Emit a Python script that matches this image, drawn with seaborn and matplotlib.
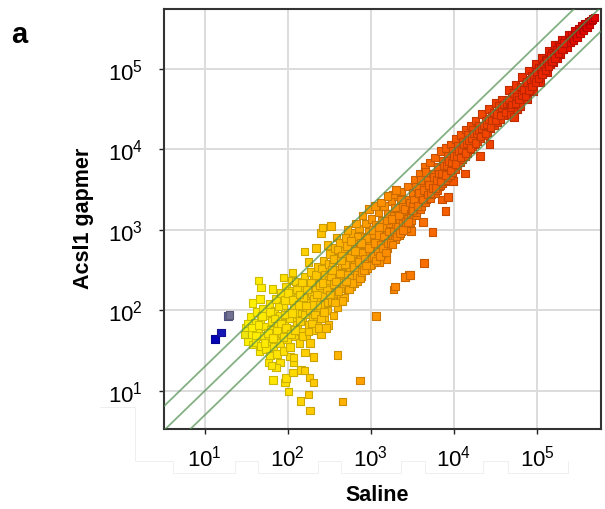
import numpy as np
import pandas as pd
import matplotlib
matplotlib.use("Agg")
import matplotlib.pyplot as plt
from matplotlib.colors import LinearSegmentedColormap
from matplotlib.lines import Line2D
import seaborn as sns

# (log10 saline, log10 gapmer), by region of the cloud
outliers_blue = [(1.125,1.646),(1.197,1.729),(1.282,1.932),(1.30,1.945)]
outliers_low = [(2.008,0.992),(2.152,0.876),(2.268,0.760),(2.252,0.955),(2.661,0.868),(2.870,1.129),
 (1.823,1.137),(1.968,1.108),(1.98,1.158),(2.06,1.232),(2.16,1.261),(2.20,1.253),(2.26,1.17),(2.312,1.108),
 (2.60,1.448),(2.21,1.48),(2.312,1.419),(3.059,1.932),(3.271,2.259),(3.291,2.30),(3.452,2.441),(3.64,2.59),
 (2.03,1.43),(2.07,1.356),(1.907,1.356),(1.86,1.294),(1.767,1.356),(1.807,1.315),(2.068,1.418),(3.41,2.416),
 (3.47,2.44),(3.19,2.64),(3.10,2.60),(3.63,3.10),(3.48,2.99),(4.13,3.70),(3.99,3.61),(3.86,3.38),(3.93,3.41),(4.43,4.07)]
outliers_high = [(1.647,2.371),(1.679,2.288),(1.815,2.267),(1.667,2.143),(1.578,2.09),(1.947,2.412),(2.056,2.474),
 (2.048,2.371),(2.20,2.735),(2.337,2.777),(2.397,2.959),(2.417,3.033),(2.521,3.046),(2.477,2.814),(2.589,2.909),
 (2.248,2.599),(4.313,3.92),(3.74,2.975),(3.9,3.236)]
band_low = [(1.50,1.78),(1.52,1.62),(1.55,1.92),(1.56,1.70),(1.58,1.58),(1.60,1.85),(1.61,1.61),(1.63,1.98),
 (1.64,1.75),(1.66,1.50),(1.67,1.88),(1.68,1.56),(1.70,2.02),(1.71,1.68),(1.73,1.80),(1.74,1.52),(1.75,1.94),
 (1.77,1.62),(1.78,2.08),(1.79,1.44),(1.80,1.76),(1.81,1.87),(1.83,1.55),(1.84,2.00),(1.85,1.68),(1.86,2.14),
 (1.87,1.46),(1.88,1.82),(1.90,1.93),(1.91,1.60),(1.92,2.22),(1.93,1.72),(1.94,2.06),(1.95,1.50),(1.96,1.85),
 (1.98,2.30),(1.99,1.64),(2.00,1.97),(2.01,2.14),(2.02,1.77),(2.03,1.55),(2.05,2.24),(2.06,1.90),(2.07,2.05),
 (2.08,1.68),(2.10,2.36),(2.11,1.82),(2.12,2.16),(2.13,1.96),(2.14,1.60),(2.15,2.28),(2.16,1.74),(2.17,2.07),
 (2.18,1.88),(2.20,2.42),(2.21,2.18),(2.22,1.68),(2.23,1.97),(2.24,2.32),(2.25,1.82),(2.26,2.10),(2.27,1.60),
 (2.28,2.48),(2.29,2.22),(2.30,1.92),(2.31,2.38),(2.32,1.76),(2.33,2.04),(2.34,2.28),(2.35,1.86),(2.36,2.54),
 (2.37,2.15),(2.38,1.98),(2.39,2.42),(2.40,1.70),(2.41,2.26),(2.42,2.07),(2.43,2.62),(2.44,1.90),(2.45,2.34),
 (2.46,2.18),(2.47,2.50),(2.48,2.00),(2.49,1.82),(2.50,2.28)]
fill_low = [(1.48,1.70),(1.52,1.84),(1.57,1.79),(1.62,1.69),(1.65,1.82),(1.69,1.93),(1.72,1.60),(1.76,1.72),(1.79,1.98),
 (1.82,1.66),(1.84,1.90),(1.87,1.75),(1.89,2.05),(1.92,1.84),(1.95,1.67),(1.97,2.13),(1.98,1.78),(2.00,2.22),(2.02,1.90),
 (2.04,1.71),(2.06,2.13),(2.08,1.97),(2.09,1.76),(2.11,2.26),(2.13,2.07),(2.15,1.87),(2.17,2.35),(2.18,1.68),(2.19,2.16),
 (2.21,1.95),(2.23,2.26),(2.25,1.74),(2.27,2.00),(2.28,2.35),(2.29,1.84),(2.31,2.15),(2.33,1.95),(2.34,2.44),(2.36,2.07),
 (2.37,1.78),(2.39,2.32),(2.40,1.90),(2.41,2.52),(2.43,2.18),(2.44,1.98),(2.45,2.44),(2.46,1.78),(2.47,2.26),(2.48,2.10),
 (2.49,2.58),(2.50,2.38),(2.42,2.34),(2.35,2.20),(2.30,2.07),(2.22,2.06),(2.14,2.20),(2.05,1.97),(1.96,1.95)]
band_mid = [(2.51,2.70),(2.52,2.42),(2.53,2.12),(2.54,2.58),(2.55,1.94),(2.56,2.33),(2.57,2.78),(2.58,2.22),
 (2.59,2.50),(2.60,2.04),(2.61,2.66),(2.62,2.38),(2.63,2.84),(2.64,2.16),(2.65,2.56),(2.66,2.28),(2.67,2.74),
 (2.68,2.16),(2.69,2.46),(2.70,2.90),(2.71,2.62),(2.72,2.26),(2.73,2.36),(2.74,2.80),(2.75,2.54),(2.76,2.30),
 (2.77,2.70),(2.78,2.96),(2.79,2.44),(2.80,2.34),(2.81,2.62),(2.82,2.86),(2.83,2.36),(2.84,2.52),(2.85,2.76),
 (2.86,3.02),(2.87,2.46),(2.88,2.66),(2.89,2.42),(2.90,2.92),(2.91,2.56),(2.92,2.82),(2.93,2.50),(2.94,3.08),
 (2.95,2.72),(2.96,2.52),(2.97,2.98),(2.98,2.62),(2.99,2.86),(3.00,2.58),(3.01,3.14),(3.02,2.76),(3.03,2.60),
 (3.04,2.95),(3.05,2.66),(3.06,3.06),(3.07,2.84),(3.08,2.68),(3.09,3.22),(3.10,2.74),(3.11,2.96),(3.12,2.70),
 (3.13,3.12),(3.14,2.86),(3.15,2.72),(3.16,3.30),(3.17,3.02),(3.18,2.82),(3.19,2.94),(3.20,2.78),(3.21,3.20),
 (3.22,2.86),(3.23,3.08),(3.24,2.86),(3.25,3.36),(3.26,2.96),(3.27,2.90),(3.28,3.18),(3.29,2.88),(3.30,3.05),
 (3.31,2.94),(3.32,3.42),(3.33,3.26),(3.34,2.94),(3.35,3.12),(3.36,2.98),(3.37,3.48),(3.38,3.00),(3.39,3.30),
 (3.40,3.18),(3.41,3.04),(3.42,3.02),(3.43,3.38),(3.44,3.08),(3.45,3.54),(3.46,3.22),(3.47,3.10),(3.48,3.12)]
fill_mid = [(2.51,2.20),(2.53,2.50),(2.55,2.64),(2.57,2.10),(2.58,2.36),(2.60,2.76),(2.61,2.24),(2.63,2.46),(2.65,2.68),
 (2.66,2.12),(2.68,2.34),(2.69,2.58),(2.71,2.80),(2.72,2.44),(2.74,2.26),(2.75,2.66),(2.77,2.40),(2.78,2.34),(2.80,2.54),
 (2.81,2.74),(2.83,2.44),(2.84,2.92),(2.86,2.60),(2.87,2.40),(2.89,2.48),(2.90,2.72),(2.92,2.50),(2.93,2.64),(2.95,2.90),
 (2.96,2.58),(2.98,2.78),(2.99,2.56),(3.01,2.66),(3.02,3.00),(3.03,2.68),(3.05,2.84),(3.06,2.62),(3.08,2.74),(3.09,2.94),
 (3.11,2.68),(3.12,2.82),(3.14,3.04),(3.15,2.78),(3.16,2.92),(3.18,2.72),(3.19,3.12),(3.21,2.84),(3.22,2.98),(3.24,2.84),
 (3.25,3.14),(3.26,2.82),(3.28,2.98),(3.29,3.28),(3.31,2.92),(3.32,3.04),(3.34,3.18),(3.35,2.96),(3.36,3.38),(3.38,3.08),
 (3.39,3.00),(3.41,3.26),(3.42,3.10),(3.44,3.14),(3.45,3.10),(3.47,3.34),(3.48,3.20),(3.49,3.24),(2.88,2.84),(2.76,2.86),
 (3.27,3.44),(3.10,3.04),(2.94,2.56),(2.70,2.36),(2.64,2.62),
 (2.72,3.00),(2.82,3.08),(2.90,3.18),(2.98,3.26),(3.05,3.30),(3.12,3.34),(3.20,3.42),(3.30,3.50)]
band_upper = [(3.50,3.46),(3.51,3.30),(3.52,3.20),(3.53,3.62),(3.54,3.18),(3.55,3.22),(3.56,3.52),(3.57,3.40),
 (3.58,3.28),(3.59,3.70),(3.60,3.26),(3.61,3.30),(3.62,3.56),(3.63,3.44),(3.64,3.34),(3.65,3.78),(3.66,3.34),
 (3.67,3.38),(3.68,3.62),(3.69,3.50),(3.70,3.42),(3.71,3.84),(3.72,3.40),(3.73,3.44),(3.74,3.70),(3.75,3.56),
 (3.76,3.48),(3.77,3.90),(3.78,3.46),(3.79,3.62),(3.80,3.50),(3.81,3.78),(3.82,3.54),(3.83,3.56),(3.84,3.98),
 (3.85,3.68),(3.86,3.58),(3.87,3.86),(3.88,3.60),(3.89,3.62),(3.90,4.02),(3.91,3.74),(3.92,3.66),(3.93,3.92),
 (3.94,3.76),(3.95,3.68),(3.96,4.06),(3.97,3.82),(3.98,3.72),(3.99,3.98),(4.00,3.82),(4.01,3.76),(4.02,4.13),
 (4.03,3.88),(4.04,3.80),(4.05,4.04),(4.06,3.90),(4.07,3.84),(4.08,4.18),(4.09,3.95),(4.10,3.88),(4.11,4.10),
 (4.12,3.98),(4.13,3.92),(4.14,4.25),(4.15,4.02),(4.16,3.96),(4.17,4.18),(4.18,4.04),(4.19,4.00),(4.20,4.30),
 (4.21,4.08),(4.22,4.04),(4.23,4.24),(4.24,4.12),(4.25,4.06),(4.26,4.36),(4.27,4.16),(4.28,4.10),(4.30,4.30),
 (4.31,4.18),(4.32,4.14),(4.34,4.44),(4.35,4.24),(4.36,4.18),(4.38,4.36),(4.39,4.26),(4.40,4.22),(4.42,4.50),
 (4.43,4.32),(4.44,4.26),(4.46,4.42),(4.47,4.34),(4.48,4.30),(4.50,4.58),(4.51,4.40),(4.52,4.34),(4.54,4.48),
 (4.55,4.42),(4.56,4.38),(4.58,4.62),(4.59,4.48),(4.60,4.42),(4.62,4.54),(4.63,4.50),(4.64,4.46)]
fill_upper = [(3.50,3.24),(3.52,3.38),(3.54,3.54),(3.56,3.30),(3.58,3.46),(3.60,3.62),(3.62,3.38),(3.64,3.50),(3.66,3.72),
 (3.68,3.44),(3.70,3.56),(3.72,3.46),(3.74,3.52),(3.76,3.66),(3.78,3.52),(3.80,3.62),(3.82,3.70),(3.84,3.60),(3.86,3.70),
 (3.88,3.80),(3.90,3.68),(3.92,3.80),(3.94,3.86),(3.96,3.74),(3.98,3.84),(4.00,3.92),(4.02,3.82),(4.04,3.92),(4.06,3.98),
 (4.08,3.90),(4.10,4.00),(4.12,4.06),(4.14,3.96),(4.16,4.08),(4.18,4.12),(4.20,4.02),(4.22,4.14),(4.24,4.20),(4.26,4.08),
 (4.28,4.20),(4.30,4.24),(4.32,4.16),(4.34,4.26),(4.36,4.30),(4.38,4.20),(4.40,4.32),(4.42,4.38),(4.44,4.28),(4.46,4.36),
 (4.48,4.46),(4.50,4.36),(4.52,4.44),(4.54,4.54),(4.56,4.42),(4.58,4.52),(4.60,4.56),(4.62,4.46),(4.64,4.58)]
band_top = [(4.66,4.74),(4.67,4.56),(4.68,4.44),(4.70,4.66),(4.71,4.52),(4.72,4.40),(4.74,4.80),(4.75,4.62),
 (4.76,4.50),(4.78,4.72),(4.79,4.60),(4.80,4.54),(4.82,4.90),(4.83,4.74),(4.84,4.64),(4.86,4.82),(4.87,4.72),
 (4.88,4.62),(4.90,4.98),(4.91,4.86),(4.92,4.76),(4.94,4.92),(4.95,4.82),(4.96,4.72),(4.98,5.06),(4.99,4.94),
 (5.00,4.86),(5.02,5.02),(5.03,4.92),(5.04,4.84),(5.06,5.14),(5.07,5.04),(5.08,4.96),(5.10,5.12),(5.11,5.04),
 (5.12,4.96),(5.14,5.22),(5.15,5.12),(5.16,5.06),(5.18,5.20),(5.19,5.12),(5.20,5.08),(5.22,5.30),(5.23,5.20),
 (5.24,5.14),(5.26,5.30),(5.27,5.22),(5.28,5.18),(5.30,5.36),(5.31,5.28),(5.32,5.24),(5.34,5.36),(5.35,5.30),
 (5.36,5.27),(5.38,5.42),(5.39,5.36),(5.40,5.33),(5.42,5.43),(5.43,5.38),(5.44,5.36),(5.46,5.48),(5.47,5.43),
 (5.48,5.40),(5.50,5.50),(5.51,5.46),(5.52,5.44),(5.54,5.54),(5.55,5.50),(5.56,5.48),(5.58,5.56),(5.59,5.53),
 (5.60,5.52),(5.62,5.58),(5.63,5.56),(5.65,5.60),(5.67,5.62),(5.69,5.64)]
fill_top = [(4.66,4.62),(4.68,4.52),(4.70,4.56),(4.72,4.70),(4.74,4.58),(4.76,4.66),(4.78,4.62),(4.80,4.78),(4.82,4.68),
 (4.84,4.74),(4.86,4.66),(4.88,4.84),(4.90,4.74),(4.92,4.86),(4.94,4.78),(4.96,4.90),(4.98,4.84),(5.00,4.96),(5.02,4.88),
 (5.04,5.00),(5.06,4.94),(5.08,5.06),(5.10,4.98),(5.12,5.10),(5.14,5.04),(5.16,5.16),(5.18,5.10),(5.20,5.18),(5.22,5.14),
 (5.24,5.24),(5.26,5.20),(5.28,5.28),(5.30,5.24),(5.32,5.32)]

decade_ticks = [10, 100, 1000, 10000, 100000]
tick_labels = [r"$\mathregular{10^{%d}}$" % i for i in range(1, 6)]
fold_lines = [0.5, 1, 2]
x_label = "Saline"
y_label = "Acsl1 gapmer"
panel = "a"

W, H = 605, 510
sns.set_style("white")
plt.rcParams["font.family"] = ["Liberation Sans", "DejaVu Sans"]
plt.rcParams["text.color"] = "black"
plt.rcParams["xtick.labelcolor"] = "black"
plt.rcParams["ytick.labelcolor"] = "black"
fig = plt.figure(figsize=(W / 100, H / 100), dpi=100)
ax = fig.add_axes([164 / W, 1 - 430 / H, 437 / W, 420 / H])

pairs = np.array(outliers_blue + outliers_low + outliers_high + band_low + fill_low + band_mid + fill_mid
                 + band_upper + fill_upper + band_top + fill_top)
df = pd.DataFrame({"saline": 10 ** pairs[:, 0], "gapmer": 10 ** pairs[:, 1], "level": pairs[:, 0]})

vmin, vmax = 1.1, 5.7
stops = [(1.1, (0, 0, .72)), (1.2, (.1, .1, .72)), (1.29, (.42, .42, .6)), (1.5, (1, .95, 0)), (2.0, (1, .87, 0)),
         (3.0, (1, .6, 0)), (4.0, (.96, .34, 0)), (5.0, (.92, .16, 0)), (5.7, (.88, 0, 0))]
cmap = LinearSegmentedColormap.from_list("expr", [((v - vmin) / (vmax - vmin), c) for v, c in stops])

sns.scatterplot(data=df, x="saline", y="gapmer", hue="level", palette=cmap, hue_norm=(vmin, vmax),
                marker="s", s=30, linewidth=0.8, legend=False, ax=ax, zorder=3)
pts = ax.collections[0]
ec = pts.get_facecolors().copy()
ec[:, :3] = ec[:, :3] * 0.8
pts.set_edgecolors(ec)

ax.set_xscale("log")
ax.set_yscale("log")
xlim = (10 ** 0.511, 10 ** 5.77)
ylim = (10 ** 0.528, 10 ** 5.745)
ax.set_xlim(xlim)
ax.set_ylim(ylim)
line_x = np.array(xlim)
for f in fold_lines:
    ax.plot(line_x, line_x * f, color="#4f8f4f", lw=1.3, alpha=0.7, zorder=4)

ax.set_xticks(decade_ticks, tick_labels)
ax.set_yticks(decade_ticks, tick_labels)
ax.minorticks_off()
ax.grid(True, color="#dcdcdc", lw=1.4, zorder=0)
ax.set_axisbelow(True)
ax.tick_params(axis="x", length=3.5, width=1, color="#222222", pad=7.5, labelsize=16, bottom=True)
ax.tick_params(axis="y", length=3.5, width=1, color="#222222", pad=11.5, labelsize=16, left=True)
ax.set_xlabel("")
ax.set_ylabel("")
for s in ax.spines.values():
    s.set_visible(True)
    s.set_color("#333333")
    s.set_linewidth(1.5)

def px(x, y):
    return x / W, 1 - y / H

tx, ty = px(377, 496)
fig.text(tx, ty, x_label, ha="center", va="center", fontsize=15.5, fontweight="bold", color="black")
tx, ty = px(83, 218)
fig.text(tx, ty, y_label, ha="center", va="center", rotation=90, fontsize=15.5, fontweight="bold", color="black")
tx, ty = px(19, 35)
fig.text(tx, ty, panel, ha="center", va="center", fontsize=21, fontweight="bold", color="black")

# faint outline of the pasted label patches
sx = [100, 135, 135, 173, 173, 235, 235, 258, 258, 318, 318, 341, 341, 401, 401, 425, 425, 483, 483, 508, 508, 568, 568]
sy = [408, 408, 462, 462, 474, 474, 462, 462, 474, 474, 462, 462, 474, 474, 462, 462, 474, 474, 462, 462, 474, 474, 462]
fig.add_artist(Line2D([v / W for v in sx], [1 - v / H for v in sy], color="#efefef", lw=0.7, zorder=0))

fig.savefig("out.png", dpi=100)
